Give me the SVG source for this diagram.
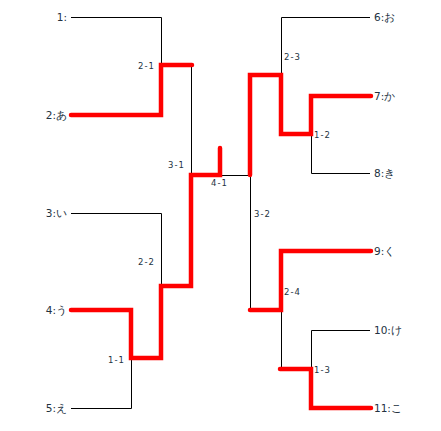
<svg xmlns="http://www.w3.org/2000/svg" width="441" height="431" viewBox="0 0 441 431">
<style>
.bk{fill:none;stroke:#000;stroke-width:1}
.rd{fill:none;stroke:#ff0000;stroke-width:4.5;stroke-linecap:round;stroke-linejoin:miter}
.nm{font-family:"DejaVu Sans",sans-serif;font-size:10.5px;fill:#23323f}
.l{text-anchor:end}
.mt{font-family:"DejaVu Sans",sans-serif;font-size:8.5px;fill:#23323f;letter-spacing:1px}
</style>
<rect width="441" height="431" fill="#fff"/>
<g id="connectors">
<path class="bk" d="M71,17.5H161.5V65"/>
<path class="bk" d="M191.5,65V175"/>
<path class="bk" d="M220,175.5H250"/>
<path class="bk" d="M71,213.5H161.5V286"/>
<path class="bk" d="M71,408.5H131.5V358"/>
<path class="bk" d="M370,17.5H281.5V75"/>
<path class="bk" d="M311.5,134V173.5H370"/>
<path class="bk" d="M250.5,175V310"/>
<path class="bk" d="M281.5,310V369"/>
<path class="bk" d="M311.5,369V330.5H370"/>
<path class="rd" d="M71,115H161V65H192"/>
<path class="rd" d="M71,310H131V358H161V286H191V175H220V148"/>
<path class="rd" d="M250,175V75H281V134H311V96H371"/>
<path class="rd" d="M250,310H281V251H371"/>
<path class="rd" d="M280,369H311V408H371"/>
</g>
<g id="n1"><text class="nm l" x="67" y="21">1:</text></g>
<g id="n2"><text class="nm l" x="67" y="119">2:あ</text></g>
<g id="n3"><text class="nm l" x="67" y="217">3:い</text></g>
<g id="n4"><text class="nm l" x="67" y="314">4:う</text></g>
<g id="n5"><text class="nm l" x="67" y="412">5:え</text></g>
<g id="n6"><text class="nm" x="374" y="21">6:お</text></g>
<g id="n7"><text class="nm" x="374" y="100">7:か</text></g>
<g id="n8"><text class="nm" x="374" y="177">8:き</text></g>
<g id="n9"><text class="nm" x="374" y="255">9:く</text></g>
<g id="n10"><text class="nm" x="374" y="334">10:け</text></g>
<g id="n11"><text class="nm" x="374" y="412">11:こ</text></g>
<g id="m21"><text class="mt" x="138" y="69">2-1</text></g>
<g id="m22"><text class="mt" x="138" y="265">2-2</text></g>
<g id="m11"><text class="mt" x="108" y="363">1-1</text></g>
<g id="m31"><text class="mt" x="168" y="168">3-1</text></g>
<g id="m41"><text class="mt" x="211" y="186">4-1</text></g>
<g id="m23"><text class="mt" x="284" y="60">2-3</text></g>
<g id="m12"><text class="mt" x="314" y="138">1-2</text></g>
<g id="m32"><text class="mt" x="254" y="217">3-2</text></g>
<g id="m24"><text class="mt" x="284" y="295">2-4</text></g>
<g id="m13"><text class="mt" x="314" y="373">1-3</text></g>
</svg>
